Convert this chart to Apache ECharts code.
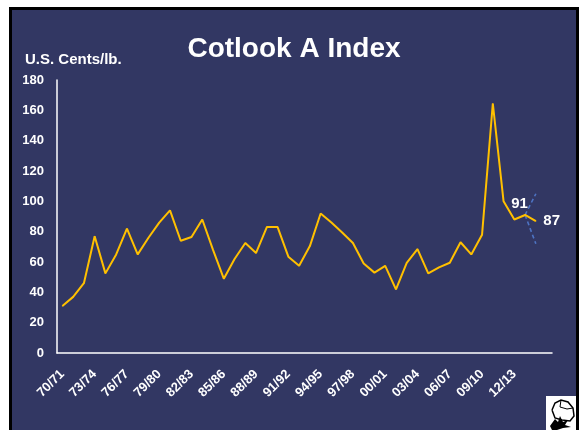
<!DOCTYPE html>
<html>
<head>
<meta charset="utf-8">
<script src="https://cdn.jsdelivr.net/npm/echarts@6/dist/echarts.min.js"></script>
<style>
html,body{margin:0;padding:0;background:#ffffff;}
#chart{width:579px;height:430px;}
</style>
</head>
<body>
<div id="chart"></div>
<script>
var categories = ['70/71','71/72','72/73','73/74','74/75','75/76','76/77','77/78','78/79','79/80',
  '80/81','81/82','82/83','83/84','84/85','85/86','86/87','87/88','88/89','89/90',
  '90/91','91/92','92/93','93/94','94/95','95/96','96/97','97/98','98/99','99/00',
  '00/01','01/02','02/03','03/04','04/05','05/06','06/07','07/08','08/09','09/10',
  '10/11','11/12','12/13','13/14','14/15',''];
var indexValues = [31, 37, 46, 77, 52.5, 65, 82, 65, 76, 86,
  94, 74, 76.5, 88, 68, 49, 62, 72.5, 66, 83,
  83, 63.5, 57.5, 70.5, 92, 86, 79.5, 72.5, 59, 53,
  57.5, 42, 59.5, 68.5, 52.5, 56.5, 59.5, 73, 65, 78,
  164.5, 100, 88, 91, 87];
var upperRange = {from: ['13/14', 91], to: ['14/15', 105]};
var lowerRange = {from: ['13/14', 91], to: ['14/15', 72]};
var labelledPoints = [{cat: '13/14', value: 91, text: '91'}, {cat: '14/15', value: 87, text: '87'}];
var yTicks = {min: 0, max: 180, step: 20};

var navy = '#323763';
var chart = echarts.init(document.getElementById('chart'), null, {renderer: 'canvas'});

var mainData = indexValues.map(function (v, i) {
  var item = {value: v};
  labelledPoints.forEach(function (lp) {
    if (lp.cat === categories[i]) {
      var isLast = (i === indexValues.length - 1);
      item.label = isLast ? {
        show: true, formatter: lp.text, position: 'right', distance: 7,
        color: '#ffffff', fontWeight: 'bold', fontSize: 15, fontFamily: 'Liberation Sans, Arial, sans-serif'
      } : {
        show: true, formatter: lp.text, position: [-5, -11], align: 'center', verticalAlign: 'middle',
        color: '#ffffff', fontWeight: 'bold', fontSize: 15, fontFamily: 'Liberation Sans, Arial, sans-serif'
      };
    }
  });
  return item;
});

function rangeSeries(r) {
  return {
    type: 'line',
    data: [r.from, r.to],
    symbol: 'none',
    silent: true,
    lineStyle: {color: '#4e74c4', width: 1.6, type: [4, 3]},
    z: 1
  };
}

var option = {
  backgroundColor: '#ffffff',
  animation: false,
  textStyle: {fontFamily: 'Liberation Sans, Arial, sans-serif'},
  graphic: [
    {type: 'rect', z: -10, shape: {x: 10.5, y: 8.5, width: 567, height: 430},
      style: {fill: navy, stroke: '#000000', lineWidth: 3}},
    {type: 'text', x: 294, y: 49, z: 10,
      style: {text: 'Cotlook A Index', fill: '#ffffff', font: 'bold 28px "Liberation Sans", Arial, sans-serif',
        textAlign: 'center', textVerticalAlign: 'middle', align: 'center', verticalAlign: 'middle'}},
    {type: 'text', x: 25, y: 60, z: 10,
      style: {text: 'U.S. Cents/lb.', fill: '#ffffff', font: 'bold 15px "Liberation Sans", Arial, sans-serif',
        textAlign: 'left', textVerticalAlign: 'middle', align: 'left', verticalAlign: 'middle'}},
    {type: 'group', x: 546, y: 396, z: 10, children: [
      {type: 'rect', shape: {x: 0, y: 0, width: 30, height: 34}, style: {fill: '#ffffff'}},
      {type: 'polyline', shape: {points: [[6,14],[9,7],[15,4],[22,6],[27,12],[28,20],[24,25],[16,24],[9,22],[6,14]]},
        style: {stroke: '#000000', fill: 'none', lineWidth: 1.5}},
      {type: 'polyline', shape: {points: [[15,4],[14,11],[21,13],[27,12]]}, style: {stroke: '#000000', fill: 'none', lineWidth: 1}},
      {type: 'polygon', shape: {points: [[4,30],[9,23],[12,26],[14,20],[17,26],[22,24],[19,29],[25,31],[17,32],[11,34],[6,34]]},
        style: {fill: '#000000'}}
    ]}
  ],
  grid: {left: 57, right: 27, top: 80, bottom: 77, containLabel: false},
  xAxis: {
    type: 'category',
    data: categories,
    boundaryGap: true,
    axisLine: {show: true, lineStyle: {color: '#ffffff', width: 1.5}},
    axisTick: {show: false},
    splitLine: {show: false},
    axisLabel: {
      interval: 2, rotate: 45, margin: 19,
      color: '#ffffff', fontWeight: 'bold', fontSize: 13,
      fontFamily: 'Liberation Sans, Arial, sans-serif'
    }
  },
  yAxis: {
    type: 'value',
    min: yTicks.min, max: yTicks.max, interval: yTicks.step,
    axisLine: {show: true, lineStyle: {color: '#ffffff', width: 1.5}},
    axisTick: {show: false},
    splitLine: {show: false},
    axisLabel: {
      margin: 13, color: '#ffffff', fontWeight: 'bold', fontSize: 13,
      fontFamily: 'Liberation Sans, Arial, sans-serif'
    }
  },
  series: [
    {
      type: 'line',
      data: mainData,
      symbol: 'circle',
      symbolSize: 1,
      showSymbol: true,
      itemStyle: {color: '#FFC000'},
      lineStyle: {color: '#FFC000', width: 2},
      z: 3
    },
    rangeSeries(upperRange),
    rangeSeries(lowerRange)
  ]
};
chart.setOption(option);
</script>
</body>
</html>
